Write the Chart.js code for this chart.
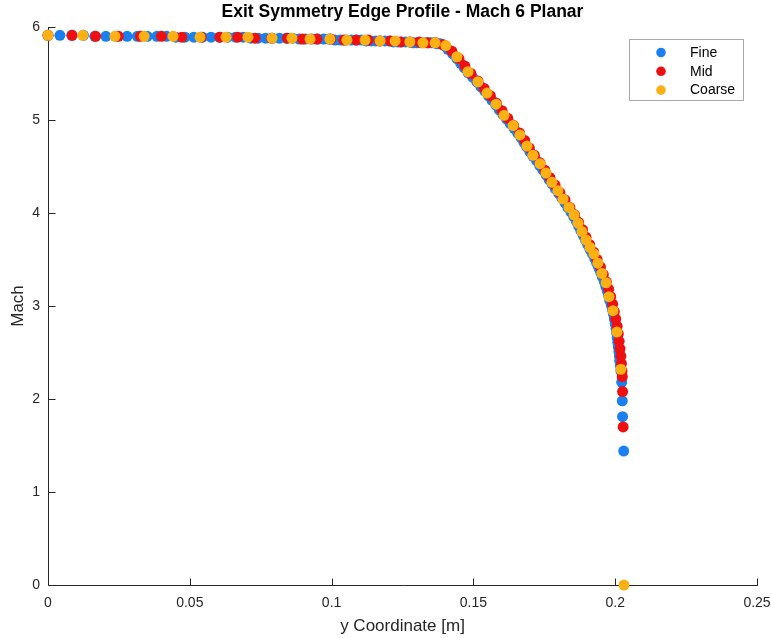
<!DOCTYPE html>
<html>
<head>
<meta charset="utf-8">
<script src="https://cdn.jsdelivr.net/npm/chart.js@4.4.1/dist/chart.umd.min.js"></script>
<style>
  html, body { margin: 0; padding: 0; background: #ffffff; }
  #wrap { width: 772px; height: 638px; }
</style>
</head>
<body>
<div id="wrap"><canvas id="c" width="772" height="638"></canvas></div>
<script>
// Exit symmetry edge profile: Mach number vs y coordinate for three grids.
const seriesNames = ['Fine', 'Mid', 'Coarse'];
const xTickLabels = ['0', '0.05', '0.1', '0.15', '0.2', '0.25'];
const yTickLabels = ['0', '1', '2', '3', '4', '5', '6'];

const fineY = [
  0.0000, 0.0042, 0.0084, 0.0125, 0.0165, 0.0204, 0.0242, 0.0279, 0.0315, 0.0350,
  0.0384, 0.0418, 0.0451, 0.0483, 0.0514, 0.0545, 0.0575, 0.0604, 0.0633, 0.0661,
  0.0688, 0.0715, 0.0741, 0.0767, 0.0792, 0.0816, 0.0840, 0.0863, 0.0886, 0.0908,
  0.0930, 0.0951, 0.0972, 0.0992, 0.1012, 0.1031, 0.1050, 0.1069, 0.1087, 0.1105,
  0.1122, 0.1139, 0.1156, 0.1172, 0.1188, 0.1203, 0.1218, 0.1233, 0.1247, 0.1261,
  0.1275, 0.1288, 0.1301, 0.1314, 0.1326, 0.1338, 0.1350, 0.1361, 0.1372, 0.1383,
  0.1393, 0.1402,
  0.1410, 0.1427, 0.1442, 0.1455, 0.1468, 0.1481, 0.1497, 0.1512, 0.1526, 0.1540,
  0.1553, 0.1566, 0.1579, 0.1591, 0.1604, 0.1617, 0.1630, 0.1643, 0.1656, 0.1668,
  0.1678, 0.1688, 0.1699, 0.1710, 0.1723, 0.1734, 0.1745, 0.1756, 0.1767, 0.1778,
  0.1789, 0.1801, 0.1812, 0.1823, 0.1833, 0.1844, 0.1854, 0.1863, 0.1871, 0.1879,
  0.1887, 0.1895, 0.1903, 0.1911, 0.1920, 0.1928, 0.1935, 0.1942, 0.1949, 0.1955,
  0.1962, 0.1967, 0.1972, 0.1977, 0.1981, 0.1986, 0.1990, 0.1994, 0.1997, 0.2000,
  0.2003, 0.2005, 0.2007, 0.2009, 0.2011, 0.2013, 0.2015, 0.2016, 0.2018, 0.2020,
  0.2023, 0.2025, 0.2026, 0.2030
];
const fineMach = [
  5.91, 5.91, 5.91, 5.91, 5.90, 5.90, 5.90, 5.90, 5.90, 5.90,
  5.90, 5.90, 5.89, 5.89, 5.89, 5.89, 5.89, 5.89, 5.89, 5.89,
  5.89, 5.88, 5.88, 5.88, 5.88, 5.88, 5.88, 5.88, 5.87, 5.87,
  5.87, 5.87, 5.87, 5.87, 5.86, 5.86, 5.86, 5.86, 5.86, 5.86,
  5.85, 5.85, 5.85, 5.85, 5.85, 5.85, 5.84, 5.84, 5.84, 5.84,
  5.84, 5.83, 5.83, 5.83, 5.83, 5.83, 5.83, 5.83, 5.82, 5.82,
  5.81, 5.79,
  5.76, 5.71, 5.66, 5.61, 5.56, 5.51, 5.46, 5.41, 5.36, 5.31,
  5.26, 5.21, 5.16, 5.11, 5.06, 5.01, 4.96, 4.91, 4.86, 4.81,
  4.76, 4.71, 4.66, 4.61, 4.56, 4.51, 4.46, 4.41, 4.36, 4.31,
  4.26, 4.21, 4.16, 4.11, 4.06, 4.01, 3.96, 3.91, 3.86, 3.81,
  3.76, 3.71, 3.66, 3.61, 3.56, 3.51, 3.46, 3.41, 3.36, 3.31,
  3.26, 3.21, 3.16, 3.11, 3.06, 3.01, 2.96, 2.91, 2.86, 2.81,
  2.76, 2.71, 2.66, 2.61, 2.56, 2.51, 2.46, 2.41, 2.36, 2.30,
  2.18, 1.98, 1.81, 1.44
];

const midY = [
  0.0000, 0.0085, 0.0168, 0.0248, 0.0326, 0.0400, 0.0472, 0.0540, 0.0606, 0.0669,
  0.0730, 0.0788, 0.0844, 0.0897, 0.0948, 0.0997, 0.1043, 0.1087, 0.1129, 0.1169,
  0.1207, 0.1243, 0.1277, 0.1309, 0.1339, 0.1367, 0.1392,
  0.1424, 0.1449, 0.1470, 0.1491, 0.1516, 0.1538, 0.1560, 0.1581, 0.1601, 0.1621,
  0.1642, 0.1663, 0.1681, 0.1697, 0.1715, 0.1735, 0.1752, 0.1770, 0.1788, 0.1805,
  0.1823, 0.1840, 0.1857, 0.1871, 0.1885, 0.1897, 0.1910, 0.1924, 0.1936, 0.1948,
  0.1958, 0.1969, 0.1977, 0.1984, 0.1991, 0.1997, 0.2002, 0.2007, 0.2011, 0.2014,
  0.2017, 0.2020, 0.2022, 0.2024, 0.2025, 0.2026, 0.2028
];
const midMach = [
  5.91, 5.91, 5.90, 5.90, 5.90, 5.90, 5.89, 5.89, 5.89, 5.89,
  5.88, 5.88, 5.88, 5.87, 5.87, 5.87, 5.86, 5.86, 5.86, 5.85,
  5.85, 5.84, 5.84, 5.84, 5.83, 5.83, 5.81,
  5.74, 5.66, 5.58, 5.50, 5.42, 5.34, 5.26, 5.18, 5.10, 5.02,
  4.94, 4.86, 4.78, 4.70, 4.62, 4.54, 4.46, 4.38, 4.30, 4.22,
  4.14, 4.06, 3.98, 3.90, 3.82, 3.74, 3.66, 3.58, 3.50, 3.42,
  3.34, 3.26, 3.18, 3.10, 3.02, 2.94, 2.86, 2.78, 2.70, 2.62,
  2.54, 2.46, 2.38, 2.30, 2.24, 2.08, 1.70
];

const coarseY = [
  0.0000, 0.0123, 0.0236, 0.0339, 0.0441, 0.0536, 0.0628, 0.0705, 0.0790, 0.0860,
  0.0924, 0.0994, 0.1054, 0.1118, 0.1171, 0.1224, 0.1276, 0.1322, 0.1365, 0.1403,
  0.1442, 0.1481, 0.1516, 0.1548, 0.1580, 0.1608, 0.1640, 0.1664, 0.1689, 0.1710,
  0.1735, 0.1756, 0.1777, 0.1798, 0.1816, 0.1837, 0.1855, 0.1869, 0.1883, 0.1897,
  0.1911, 0.1925, 0.1939, 0.1953, 0.1968, 0.1978, 0.1992, 0.2006, 0.2020, 0.2031
];
const coarseMach = [
  5.91, 5.91, 5.90, 5.90, 5.90, 5.89, 5.89, 5.89, 5.88, 5.88,
  5.87, 5.87, 5.86, 5.86, 5.85, 5.85, 5.84, 5.83, 5.83, 5.80,
  5.68, 5.52, 5.41, 5.29, 5.17, 5.05, 4.94, 4.84, 4.72, 4.62,
  4.53, 4.43, 4.33, 4.24, 4.15, 4.06, 3.98, 3.89, 3.80, 3.71,
  3.63, 3.56, 3.46, 3.35, 3.25, 3.10, 2.95, 2.72, 2.32, 0.00
];

const seriesColors = ['#1a80f0', '#ee1010', '#fbb013'];
const FONT = '"Liberation Sans", Arial, Helvetica, sans-serif';
const INK = '#262626';

function toPoints(xs, ys) {
  return xs.map((v, i) => ({ x: v, y: ys[i] }));
}

// later series are painted over earlier ones
const datasets = [
  toPoints(fineY, fineMach),
  toPoints(midY, midMach),
  toPoints(coarseY, coarseMach)
].map((pts, i) => ({
  label: seriesNames[i],
  data: pts,
  order: 3 - i,
  showLine: false,
  pointRadius: 5.5,
  pointHoverRadius: 5.5,
  pointBorderWidth: 0,
  pointBackgroundColor: seriesColors[i],
  pointBorderColor: seriesColors[i],
  clip: false
}));

// Axis lines with inward ticks, drawn beneath the markers.
const axesFrame = {
  id: 'axesFrame',
  beforeDatasetsDraw(chart) {
    const { ctx, chartArea: a, scales: { x, y } } = chart;
    ctx.save();
    ctx.strokeStyle = INK;
    ctx.lineWidth = 1;
    ctx.beginPath();
    const l = Math.round(a.left) + 0.5;
    const b = Math.round(a.bottom) + 0.5;
    ctx.moveTo(l, Math.round(a.top));
    ctx.lineTo(l, b);
    ctx.lineTo(Math.round(a.right) + 1, b);
    x.ticks.forEach(t => {
      const px = Math.round(x.getPixelForValue(t.value)) + 0.5;
      ctx.moveTo(px, b);
      ctx.lineTo(px, b - 7);
    });
    y.ticks.forEach(t => {
      const py = Math.round(y.getPixelForValue(t.value)) + 0.5;
      ctx.moveTo(l, py);
      ctx.lineTo(l + 7, py);
    });
    ctx.stroke();
    ctx.restore();
  },
  afterDraw(chart) {
    const { ctx, chartArea: a } = chart;
    const cx = (a.left + a.right) / 2;
    ctx.save();
    // title
    ctx.fillStyle = '#000000';
    ctx.font = 'bold 17.5px ' + FONT;
    ctx.textAlign = 'center';
    ctx.textBaseline = 'middle';
    ctx.fillText('Exit Symmetry Edge Profile - Mach 6 Planar', cx, 12);
    // axis titles
    ctx.fillStyle = INK;
    ctx.font = '17px ' + FONT;
    ctx.fillText('y Coordinate [m]', cx, 626);
    ctx.save();
    ctx.translate(18, (a.top + a.bottom) / 2);
    ctx.rotate(-Math.PI / 2);
    ctx.fillText('Mach', 0, 0);
    ctx.restore();
    // legend
    const bx = 629.5, by = 39.5, bw = 114, bh = 61;
    ctx.fillStyle = '#ffffff';
    ctx.fillRect(bx, by, bw, bh);
    ctx.strokeStyle = '#a8a8a8';
    ctx.lineWidth = 1;
    ctx.strokeRect(bx, by, bw, bh);
    ctx.font = '14px ' + FONT;
    ctx.textAlign = 'left';
    chart.data.datasets.forEach((ds, i) => {
      const ry = 52.5 + i * 18.8;
      ctx.fillStyle = ds.pointBackgroundColor;
      ctx.beginPath();
      ctx.arc(661, ry, 4.8, 0, Math.PI * 2);
      ctx.fill();
      ctx.fillStyle = '#000000';
      ctx.fillText(ds.label, 690, ry + 0.5);
    });
    ctx.restore();
  }
};

new Chart(document.getElementById('c'), {
  type: 'scatter',
  data: { datasets },
  options: {
    responsive: false,
    animation: false,
    events: [],
    layout: { padding: { top: 27, right: 15, left: 0, bottom: 0 } },
    plugins: {
      legend: { display: false },
      title: { display: false },
      tooltip: { enabled: false }
    },
    scales: {
      x: {
        type: 'linear',
        min: 0,
        max: 0.25,
        grid: { display: false, drawTicks: false },
        border: { display: false },
        ticks: {
          stepSize: 0.05,
          color: INK,
          font: { family: FONT, size: 14 },
          padding: 10,
          maxRotation: 0,
          callback: (v, i) => xTickLabels[i]
        },
        afterFit: s => { s.height = 53; s.paddingLeft = 0; s.paddingRight = 0; }
      },
      y: {
        type: 'linear',
        min: 0,
        max: 6,
        grid: { display: false, drawTicks: false },
        border: { display: false },
        ticks: {
          stepSize: 1,
          color: INK,
          font: { family: FONT, size: 14 },
          padding: 8,
          callback: (v, i) => yTickLabels[i]
        },
        afterFit: s => { s.width = 48; s.paddingTop = 0; s.paddingBottom = 0; }
      }
    }
  },
  plugins: [axesFrame]
});
</script>
</body>
</html>
